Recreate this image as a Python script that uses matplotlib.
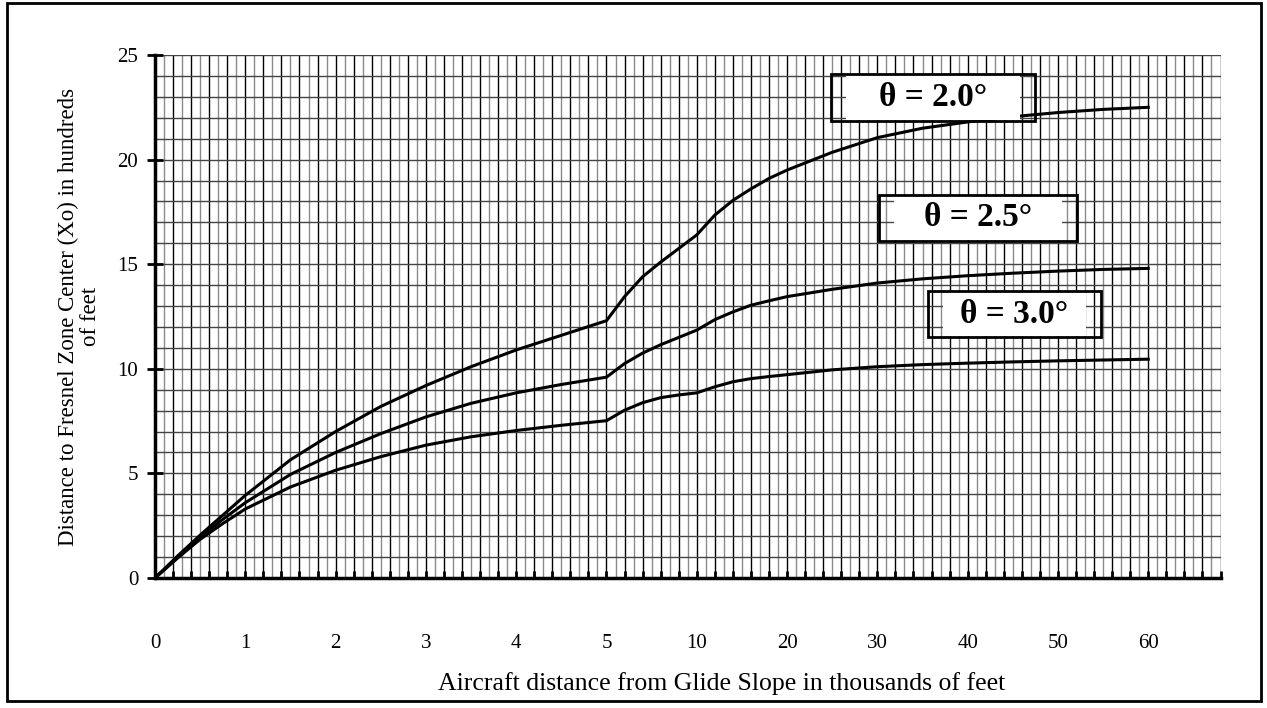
import numpy as np
import matplotlib.pyplot as plt
from matplotlib.patches import Rectangle

# distance from glide slope (thousands of feet) and Xo (hundreds of feet)
dist_kft = [0, 0.25, 0.5, 0.75, 1, 1.5, 2, 2.5, 3, 3.5, 4, 4.5, 5,
            6, 7, 8, 9, 10, 12, 14, 16, 18, 20, 25, 30, 35, 40, 45, 50, 55, 60]
xo_20 = [0, 1.05, 2.05, 3.0, 3.95, 5.65, 7.0, 8.2, 9.2, 10.1, 10.9, 11.6, 12.3,
         13.45, 14.4, 15.1, 15.75, 16.4, 17.35, 18.05, 18.6, 19.1, 19.5,
         20.35, 21.05, 21.5, 21.8, 22.05, 22.25, 22.4, 22.5]
xo_25 = [0, 1.0, 1.95, 2.8, 3.6, 4.95, 6.0, 6.9, 7.7, 8.35, 8.85, 9.25, 9.6,
         10.25, 10.75, 11.15, 11.5, 11.85, 12.35, 12.72, 13.04, 13.25, 13.45,
         13.8, 14.1, 14.3, 14.45, 14.57, 14.67, 14.75, 14.8]
xo_30 = [0, 0.95, 1.85, 2.6, 3.3, 4.35, 5.15, 5.8, 6.35, 6.75, 7.05, 7.3, 7.52,
         8.02, 8.38, 8.62, 8.75, 8.85, 9.14, 9.38, 9.53, 9.63, 9.72,
         9.95, 10.1, 10.2, 10.27, 10.33, 10.38, 10.42, 10.46]
curve_labels = ["\u03b8 = 2.0\u00b0", "\u03b8 = 2.5\u00b0", "\u03b8 = 3.0\u00b0"]
x_ticks = [0, 1, 2, 3, 4, 5, 10, 20, 30, 40, 50, 60]
y_ticks = [0, 5, 10, 15, 20, 25]


# piecewise x axis: 0-5 linear, 5-10 in one unit, 10-60 ten per unit
def fwd(x):
    x = np.asarray(x, float)
    return np.where(x <= 5, x, np.where(x <= 10, 5 + (x - 5) / 5, 6 + (x - 10) / 10))


def inv(u):
    u = np.asarray(u, float)
    return np.where(u <= 5, u, np.where(u <= 6, 5 + (u - 5) * 5, 10 + (u - 6) * 10))


plt.rcParams['font.family'] = ['Liberation Serif', 'DejaVu Serif']

W, H = 1267, 708
fig = plt.figure(figsize=(W / 100, H / 100), dpi=100)
ax = fig.add_axes([155 / W, 1 - 578 / H, (1220.5 - 155) / W, (578 - 55) / H])
ax.set_xscale('function', functions=(fwd, inv))
ax.set_xlim(0, float(inv(11.8)))
ax.set_ylim(0, 25)

# graph paper grid
for i, u in enumerate(np.arange(0, 11.81, 0.1)):
    ax.axvline(float(inv(u)), color='black' if i % 2 == 0 else '#8a8a8a', lw=1.0, zorder=1)
for y in range(1, 26):
    ax.axhline(y, color='#444444', lw=1.0, zorder=1)

for vals in (xo_20, xo_25, xo_30):
    ax.plot(dist_kft, vals, color='black', lw=2.2, zorder=3, solid_joinstyle='miter')

for s in ('top', 'right'):
    ax.spines[s].set_visible(False)
ax.spines['left'].set_linewidth(2.5)
ax.spines['bottom'].set_linewidth(2.5)
ax.spines['left'].set_zorder(4)
ax.spines['bottom'].set_zorder(4)

ax.set_xticks(x_ticks)
ax.set_xticklabels([str(t) for t in x_ticks])
ax.set_xticks(inv(np.arange(0, 11.81, 0.2)), minor=True)
ax.tick_params(axis='x', which='both', direction='in', length=5, width=2, labelsize=15, pad=40)
ax.set_yticks(y_ticks)
ax.tick_params(axis='y', which='major', direction='inout', length=12, width=2, labelsize=15, pad=6)
ax.tick_params(axis='y', which='minor', length=0)

ax.set_xlabel("Aircraft distance from Glide Slope in thousands of feet", fontsize=18.5)
ax.xaxis.set_label_coords(0.532, -0.18)
ax.set_ylabel("Distance to Fresnel Zone Center (Xo) in hundreds\nof feet", fontsize=16.5, labelpad=12,
              linespacing=1.05)

# labelled boxes (pixel positions from the reference)
boxes = [(831, 74, 1035, 121), (879, 195, 1077, 241), (928, 291, 1101, 337)]
for (x0, y0, x1, y1), lab in zip(boxes, curve_labels):
    fig.add_artist(Rectangle(((x0 + 15) / W, 1 - (y1 - 1) / H), (x1 - x0 - 30) / W, (y1 - y0 - 2) / H,
                             transform=fig.transFigure, facecolor='white', edgecolor='none', zorder=5))
    fig.add_artist(Rectangle((x0 / W, 1 - y1 / H), (x1 - x0) / W, (y1 - y0) / H,
                             transform=fig.transFigure, facecolor='none', edgecolor='black', lw=2, zorder=6))
    fig.text((x0 + x1) / 2 / W, 1 - (y0 + y1) / 2 / H, lab, ha='center', va='center',
             fontsize=24, fontweight='bold', zorder=7)

# outer frame
fig.add_artist(Rectangle((7 / W, 1 - 701 / H), (1261 - 7) / W, (701 - 3) / H,
                         transform=fig.transFigure, facecolor='none', edgecolor='black', lw=2))

fig.savefig("out.png", dpi=100)
